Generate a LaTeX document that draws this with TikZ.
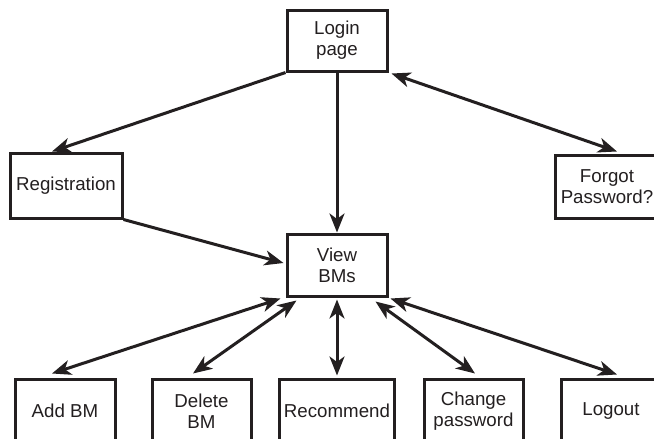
\documentclass[tikz,border=0pt]{standalone}
\usepackage{fontspec}
\setmainfont{Liberation Sans}
\usetikzlibrary{arrows.meta}
\definecolor{ink}{HTML}{231F20}
\begin{document}
\begin{tikzpicture}[x=1pt,y=-1pt,
  box/.style={draw=ink,line width=3pt,fill=white,align=center,inner sep=0pt,
    font=\fontsize{18.7}{21}\selectfont,text=ink},
  conn/.style={draw=ink,line width=3pt},
  tip/.tip={Stealth[length=19pt,width=15pt,inset=5.5pt]},
  one/.style={conn,-tip},
  two/.style={conn,tip-tip}]
\fill[white] (0,0) rectangle (654,439);
\clip (0,0) rectangle (654,439);
\node[box,minimum width=100pt,minimum height=61pt] (login) at (337,40.5) {Login\\page};
\node[box,minimum width=112pt,minimum height=65pt] (reg) at (66,185.5) {Registration};
\node[box,minimum width=104pt,minimum height=63pt] (forgot) at (607,186.5) {Forgot\\Password?};
\node[box,minimum width=100pt,minimum height=62pt] (view) at (337,265) {View\\BMs};
\node[box,minimum width=100pt,minimum height=64pt] (add) at (65,411) {Add BM};
\node[box,minimum width=99pt,minimum height=64pt] (del) at (201.5,411) {Delete\\BM};
\node[box,minimum width=115pt,minimum height=64pt] (rec) at (337,411) {Recommend};
\node[box,minimum width=99pt,minimum height=64pt] (chg) at (473.5,411) {Change\\password};
\node[box,minimum width=100pt,minimum height=64pt] (logout) at (611,411) {Logout};
\path[one] (login.south west) -- ([xshift=-14pt]reg.north);
\path[one] (login.south) -- (view.north);
\path[two] ([xshift=3pt,yshift=-1pt]login.south east) -- ([xshift=10pt,yshift=2pt]forgot.north);
\path[one] (reg.south east) -- ([xshift=-2pt,yshift=2pt]view.west);
\path[two] ([xshift=-5pt,yshift=-1pt]view.south west) -- ([xshift=-13pt,yshift=4pt]add.north);
\path[two] ([xshift=11pt,yshift=-3pt]view.south west) -- ([xshift=-8.5pt,yshift=4pt]del.north);
\path[two] ([yshift=-2pt]view.south) -- ([yshift=2pt]rec.north);
\path[two] ([xshift=-13pt,yshift=-4pt]view.south east) -- ([xshift=1.5pt,yshift=4pt]chg.north);
\path[two] ([xshift=2pt,yshift=-1pt]view.south east) -- ([xshift=6pt,yshift=3pt]logout.north);
\end{tikzpicture}
\end{document}
